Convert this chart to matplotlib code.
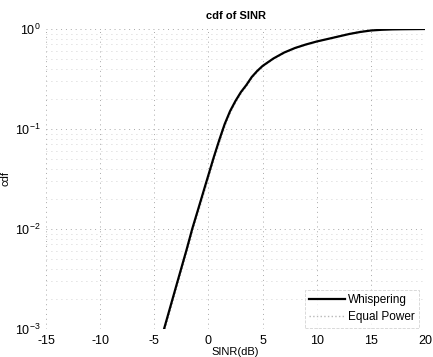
import matplotlib
matplotlib.use("Agg")
import matplotlib.pyplot as plt

plt.rcParams['font.family'] = ['Liberation Sans', 'DejaVu Sans']

# Whispering cdf
sinr_w = [-4.1, -3.0, -2.0, -1.5, -1.0, -0.5, 0.0, 0.5, 1.0, 1.5, 2.0, 2.5, 3.0, 3.5,
          4.0, 4.5, 5.0, 6.0, 7.0, 8.0, 9.0, 10.0, 11.0, 12.0, 13.0, 14.0, 15.0, 16.0, 17.0, 18.0, 20.0]
cdf_w = [0.001, 0.00263, 0.00631, 0.01, 0.0151, 0.0229, 0.0347, 0.0525, 0.0776, 0.112,
         0.151, 0.191, 0.234, 0.275, 0.331, 0.38, 0.427, 0.507, 0.582, 0.646, 0.70, 0.75, 0.794,
         0.841, 0.891, 0.933, 0.966, 0.982, 0.991, 0.995, 1.0]
# Equal Power cdf (nearly overlapping, drawn faint dotted)
sinr_e = [-4.0, -2.9, -1.9, -1.4, -0.9, -0.4, 0.1, 0.6, 1.1, 1.6, 2.1, 2.6, 3.1, 3.6,
          4.1, 4.6, 5.1, 6.1, 7.1, 8.1, 9.1, 10.1, 11.0, 12.0, 13.0, 14.0, 15.0, 16.0, 17.0, 18.0, 20.0]
cdf_e = [0.001, 0.00263, 0.00631, 0.01, 0.0151, 0.0229, 0.0347, 0.0525, 0.0776, 0.112,
         0.151, 0.191, 0.234, 0.275, 0.331, 0.38, 0.427, 0.507, 0.582, 0.646, 0.70, 0.75, 0.80,
         0.85, 0.90, 0.945, 0.975, 0.99, 0.996, 0.998, 1.0]

xticks = [-15, -10, -5, 0, 5, 10, 15, 20]

fig = plt.figure(figsize=(4.33, 3.57), dpi=100)
ax = fig.add_axes([46/433, 1 - 329/357, (425-46)/433, (329-29)/357])

ax.plot(sinr_e, cdf_e, color='#b8b8b8', lw=1.0, ls=':', label='Equal Power', zorder=2)
ax.plot(sinr_w, cdf_w, color='black', lw=1.6, label='Whispering', zorder=3,
        solid_joinstyle='round')

ax.set_yscale('log')
ax.set_xlim(-15, 20)
ax.set_ylim(1e-3, 1)
ax.set_xticks(xticks)
ax.set_xticklabels([str(t) for t in xticks])
ax.grid(True, which='major', ls=(0, (1, 4)), color='#a8a8a8', lw=0.7)
ax.grid(True, which='minor', axis='y', ls=(0, (1, 5)), color='#c4c4c4', lw=0.6)
for s in ax.spines.values():
    s.set_visible(False)
ax.tick_params(axis='both', which='both', length=0, labelsize=9)
ax.tick_params(axis='x', pad=4)
ax.tick_params(axis='y', pad=4)

ax.set_title('cdf of SINR', fontsize=8, fontweight='bold', pad=7)
ax.set_xlabel('SINR(dB)', fontsize=8, labelpad=0)
ax.set_ylabel('cdf', fontsize=8, labelpad=3)

handles, labels = ax.get_legend_handles_labels()
leg = ax.legend(handles[::-1], labels[::-1], loc='lower right', fontsize=8.5,
                frameon=True, fancybox=False, borderpad=0.35, handlelength=3,
                handletextpad=0.3, labelspacing=0.45, bbox_to_anchor=(1.0, -0.015))
leg.get_frame().set_edgecolor('#c8c8c8')
leg.get_frame().set_linestyle('--')
leg.get_frame().set_linewidth(0.6)

fig.savefig('out.png', dpi=100)
